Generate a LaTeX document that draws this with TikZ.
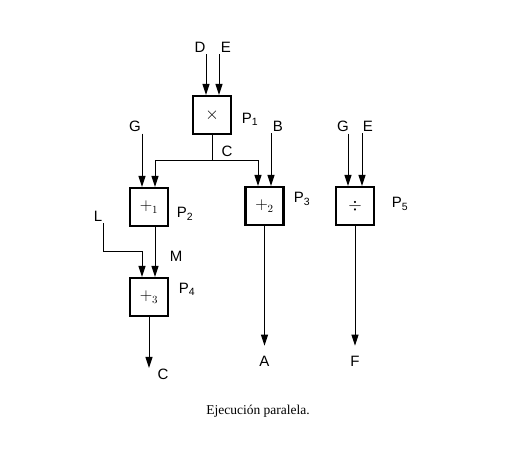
\documentclass[tikz,border=0pt]{standalone}
\usepackage{fontspec}
\setmainfont{Liberation Sans}
\newfontfamily\capfont{Liberation Serif}
\usetikzlibrary{arrows.meta}

\begin{document}
\begin{tikzpicture}[x=1pt,y=-1pt,
  proc/.style = {draw, line width=2.2pt, minimum size=38pt, inner sep=0pt, font=\fontsize{16}{18}\selectfont},
  lbl/.style = {inner sep=2pt, font=\fontsize{15}{17}\selectfont},
  arr/.style = {line width=1pt, -{Triangle[length=11pt,width=7pt]}},
  wire/.style = {line width=1pt}]
\useasboundingbox (0,0) rectangle (515,454);
\node[proc] (p1) at (212,115) {$\times$};
\node[proc] (p2) at (149,207) {$+_1$};
\node[proc] (p3) at (264.5,206) {$+_2$};
\node[proc] (p4) at (149,297) {$+_3$};
\node[proc] (p5) at (355,206) {$\div$};
\node[lbl] at (250,119) {P\textsubscript{1}};
\node[lbl] at (185,214) {P\textsubscript{2}};
\node[lbl] at (302,199) {P\textsubscript{3}};
\node[lbl] at (187,289) {P\textsubscript{4}};
\node[lbl] at (400,204) {P\textsubscript{5}};
% inputs
\node[lbl] (d) at (200,47) {D};
\node[lbl] (e) at (226,47) {E};
\node[lbl] (g1) at (135,126) {G};
\node[lbl] (b) at (278,126) {B};
\node[lbl] (g2) at (343,126) {G};
\node[lbl] (e2) at (368,126) {E};
\node[lbl] (l) at (98,216) {L};
\draw[arr] ([xshift=-6pt]p1.north |- d.south) -- ([xshift=-6pt]p1.north);
\draw[arr] ([xshift=7pt]p1.north |- e.south) -- ([xshift=7pt]p1.north);
\draw[arr] ([xshift=-7pt]p2.north |- g1.south) -- ([xshift=-7pt]p2.north);
\draw[arr] ([xshift=6.5pt]p3.north |- b.south) -- ([xshift=6.5pt]p3.north);
\draw[arr] ([xshift=-7pt]p5.north |- g2.south) -- ([xshift=-7pt]p5.north);
\draw[arr] ([xshift=7pt]p5.north |- e2.south) -- ([xshift=7pt]p5.north);
% C bus
\coordinate (cj) at (212,161);
\node[lbl] (c1) at (227,151) {C};
\draw[wire] (p1.south) -- (cj);
\draw[arr] (cj) -| ([xshift=6pt]p2.north);
\draw[arr] (cj) -| ([xshift=-6.5pt]p3.north);
% L and M
\coordinate (lc) at (103,252);
\draw[arr] (lc |- l.south) -- (lc) -| ([xshift=-7pt]p4.north);
\node[lbl] (m) at (176,256) {M};
\draw[arr] ([xshift=6pt]p2.south) -- ([xshift=6pt]p4.north);
% outputs
\node[lbl] (c2) at (163,374) {C};
\node[lbl] (a) at (264.5,361) {A};
\node[lbl] (f) at (355,361) {F};
\coordinate (o4) at (149,368);
\draw[arr] (p4.south) -- (o4);
\draw[arr] (p3.south) -- ([yshift=8pt]a.north);
\draw[arr] (p5.south) -- ([yshift=8pt]f.north);
\node[font=\capfont\fontsize{13.5}{15}\selectfont] (cap) at (258,411) {Ejecución paralela.};
\end{tikzpicture}
\end{document}
